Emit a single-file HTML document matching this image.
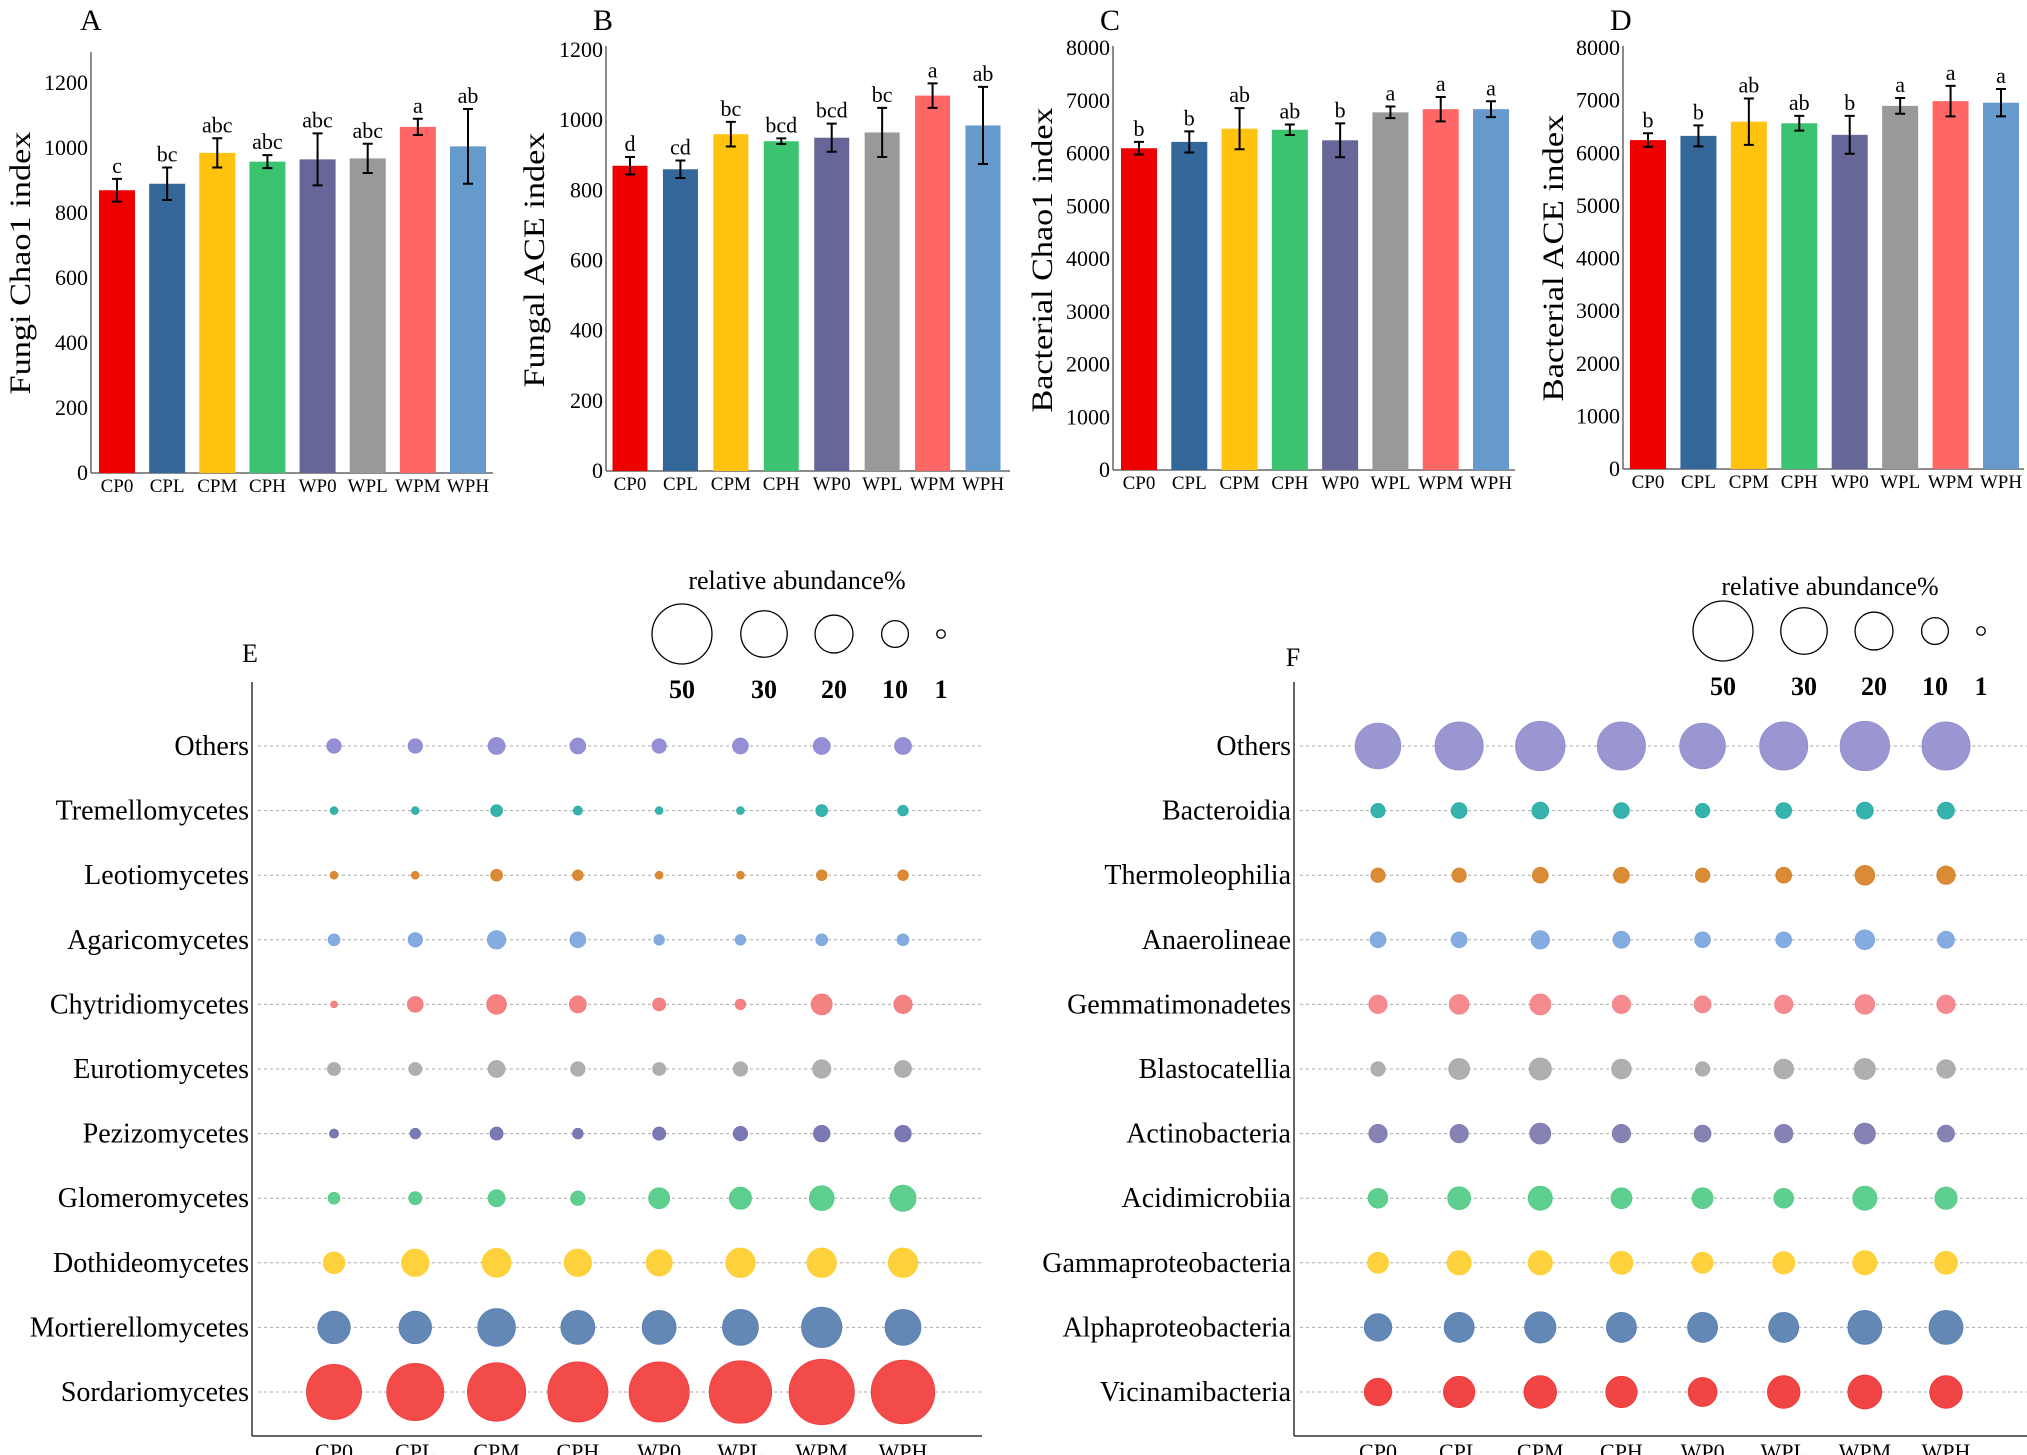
<!DOCTYPE html>
<html><head><meta charset="utf-8"><style>
html,body{margin:0;padding:0;background:#fff;}
svg{display:block;font-family:"Liberation Serif",serif;}
</style></head><body>
<svg id="fig" width="2027" height="1455" viewBox="0 0 2027 1455" xmlns="http://www.w3.org/2000/svg"></svg>
<script>
const groups = ["CP0","CPL","CPM","CPH","WP0","WPL","WPM","WPH"];
const barColors = ["#EE0000","#336699","#FFC20F","#3CC370","#676699","#999999","#FF6666","#6699CC"];

const aValues = [870,890,985,958,965,968,1065,1005];
const aErrors = [35,50,45,20,80,45,25,115];
const aLetters = ["c","bc","abc","abc","abc","abc","a","ab"];
const aTicks = [0,200,400,600,800,1000,1200];

const bValues = [870,860,960,940,950,965,1070,985];
const bErrors = [25,25,35,8,40,70,35,110];
const bLetters = ["d","cd","bc","bcd","bcd","bc","a","ab"];
const bTicks = [0,200,400,600,800,1000,1200];

const cValues = [6100,6220,6470,6450,6250,6780,6840,6840];
const cErrors = [120,200,390,100,320,110,230,150];
const cLetters = ["b","b","ab","ab","b","a","a","a"];
const cTicks = [0,1000,2000,3000,4000,5000,6000,7000,8000];

const dValues = [6250,6330,6600,6570,6350,6900,6990,6960];
const dErrors = [130,200,440,140,360,150,290,260];
const dLetters = ["b","b","ab","ab","b","a","a","a"];
const dTicks = [0,1000,2000,3000,4000,5000,6000,7000,8000];

const eTaxa = ["Others","Tremellomycetes","Leotiomycetes","Agaricomycetes","Chytridiomycetes","Eurotiomycetes","Pezizomycetes","Glomeromycetes","Dothideomycetes","Mortierellomycetes","Sordariomycetes"];
const eColors = ["#8F8AD4","#2BAFA8","#D9842A","#7DA8DF","#F47B7B","#ABABAB","#7472B0","#55CC88","#FFD033","#5B82B2","#F24040"];
const eOthers = [2.8,2.8,3.9,3.4,2.8,3.4,3.9,3.9];
const eTremello = [0.8,0.8,1.9,1.1,0.8,0.8,1.9,1.5];
const eLeotio = [0.8,0.8,1.9,1.5,0.8,0.8,1.5,1.5];
const eAgarico = [1.9,2.8,4.6,3.4,1.5,1.5,1.9,1.9];
const eChytrid = [0.6,3.4,5.3,3.9,2.3,1.5,6,4.6];
const eEuroti = [2.3,2.3,3.9,2.8,2.3,2.8,4.6,3.9];
const ePezizo = [1.1,1.5,2.3,1.5,2.3,2.8,3.7,3.7];
const eGlomero = [1.9,2.3,3.9,2.8,6,6.7,8.4,9.4];
const eDothideo = [6.4,10.3,11.4,10.3,9.4,11.9,11.9,11.9];
const eMortier = [14.6,14.6,19.7,15.9,15.9,17.8,22.5,17.8];
const eSordario = [42,45,47,50,50,54,59,56];

const fTaxa = ["Others","Bacteroidia","Thermoleophilia","Anaerolineae","Gemmatimonadetes","Blastocatellia","Actinobacteria","Acidimicrobiia","Gammaproteobacteria","Alphaproteobacteria","Vicinamibacteria"];
const fColors = ["#9590CF","#2BAFA8","#D9842A","#7DA8DF","#F4858A","#ABABAB","#7F7CB0","#55CC88","#FFD033","#5B82B2","#F03A3A"];
const fOthers = [28.7,32,33.9,32,28.7,32,33.9,32];
const fBacteroidia = [2.8,3.4,3.9,3.4,2.8,3.4,3.9,3.9];
const fThermo = [2.8,2.8,3.4,3.4,2.8,3.4,5.3,4.6];
const fAnaero = [3.4,3.4,4.6,3.9,3.4,3.4,5.3,3.9];
const fGemmat = [4.6,5.3,6,4.6,3.9,4.6,5.3,4.6];
const fBlasto = [2.8,6,6.8,5.3,2.8,5.3,6,4.6];
const fActino = [4.6,4.6,6,4.6,3.9,4.6,6,3.9];
const fAcidi = [5.3,7.2,8,6,6,5.3,8,6.8];
const fGamma = [6,8,8,7.2,6,6.8,8,7.2];
const fAlpha = [10.4,12.4,13.5,12.4,12.4,12.4,15.9,15.9];
const fVicin = [10.4,13.5,14.6,13.5,11.4,14.6,15.9,14.6];

const legendValues = [50,30,20,10,1];

const NS = "http://www.w3.org/2000/svg";
const svg = document.getElementById("fig");
function mk(tag, attrs, parent, text){
  const e = document.createElementNS(NS, tag);
  for (const k in attrs) e.setAttribute(k, attrs[k]);
  if (text !== undefined) e.textContent = text;
  (parent || svg).appendChild(e);
  return e;
}

function barPanel(cfg){
  const g = mk("g", {});
  
  
  const yScale = v => cfg.base - (cfg.base - cfg.topY) * v / cfg.max;
  const xScale = i => cfg.x0 + (cfg.x1 - cfg.x0) * i / (groups.length - 1);
  const ya = mk("line", {x1:cfg.ax, y1:cfg.axTop, x2:cfg.ax, y2:cfg.base, stroke:"#666", "stroke-width":1.5}, g);
  
  
  const xa = mk("line", {x1:cfg.ax, y1:cfg.base, x2:cfg.axRight, y2:cfg.base, stroke:"#666", "stroke-width":1.5}, g);
  
  
  cfg.ticks.forEach(t => {
    const tl = mk("text", {x:cfg.ax - 3, y:yScale(t) + 7, "text-anchor":"end", "font-size":22}, g, String(t));
    
    
  });
  cfg.values.forEach((v, i) => {
    const cx = xScale(i);
    const r = mk("rect", {x:cx - cfg.bw/2, y:yScale(v), width:cfg.bw, height:cfg.base - yScale(v), fill:barColors[i]}, g);
    
    
    const yt = yScale(v + cfg.errs[i]), yb = yScale(v - cfg.errs[i]);
    const eb = mk("path", {d:`M${cx},${yt}V${yb}M${cx-5},${yt}H${cx+5}M${cx-5},${yb}H${cx+5}`, stroke:"#000", "stroke-width":2, fill:"none"}, g);
    
    
    const lt = mk("text", {x:cx, y:yt - 6, "text-anchor":"middle", "font-size":22}, g, cfg.letters[i]);
    
    
    const xl = mk("text", {x:cx, y:cfg.base + 19, "text-anchor":"middle", "font-size":19}, g, groups[i]);
    
    
  });
  const tt = mk("text", {x:0, y:0, "text-anchor":"middle", "font-size":30, textLength:cfg.tLen, lengthAdjust:"spacingAndGlyphs", transform:`translate(${cfg.tX},${cfg.tY}) rotate(-90)`}, g, cfg.title);
  
  
  const pl = mk("text", {x:cfg.lx, y:30, "font-size":30}, g, cfg.label);
  
  
}

barPanel({name:"panel-a-fungi-chao1", values:aValues, errs:aErrors, letters:aLetters, ticks:aTicks, max:1200,
  ax:91, axTop:52, base:473, topY:83, axRight:493, x0:117, x1:468, bw:36, title:"Fungi Chao1 index", tX:30, tY:263, tLen:263, label:"A", lx:80});
barPanel({name:"panel-b-fungal-ace", values:bValues, errs:bErrors, letters:bLetters, ticks:bTicks, max:1200,
  ax:606, axTop:46, base:471, topY:50, axRight:1010, x0:630, x1:983, bw:35, title:"Fungal ACE index", tX:544, tY:260, tLen:255, label:"B", lx:593});
barPanel({name:"panel-c-bacterial-chao1", values:cValues, errs:cErrors, letters:cLetters, ticks:cTicks, max:8000,
  ax:1113, axTop:46, base:470, topY:48, axRight:1515, x0:1139, x1:1491, bw:36, title:"Bacterial Chao1 index", tX:1052, tY:260, tLen:305, label:"C", lx:1100});
barPanel({name:"panel-d-bacterial-ace", values:dValues, errs:dErrors, letters:dLetters, ticks:dTicks, max:8000,
  ax:1623, axTop:46, base:469, topY:48, axRight:2024, x0:1648, x1:2001, bw:36, title:"Bacterial ACE index", tX:1563, tY:258, tLen:287, label:"D", lx:1610});

const rScale = v => 4.24 * Math.sqrt(v);

function bubblePanel(cfg){
  const g = mk("g", {});
  
  
  const rowY = i => 746 + (1392 - 746) * i / (cfg.taxa.length - 1);
  const colX = j => cfg.x0 + (cfg.x1 - cfg.x0) * j / (groups.length - 1);
  cfg.taxa.forEach((t, i) => {
    const gl = mk("line", {x1:cfg.ax + 6, y1:rowY(i), x2:cfg.axRight, y2:rowY(i), stroke:"#aaa", "stroke-width":1, "stroke-dasharray":"3,3"}, g);
    
    
    const tl = mk("text", {x:cfg.ax - 3, y:rowY(i) + 9, "text-anchor":"end", "font-size":28}, g, t);
    
    
  });
  cfg.series.forEach((arr, i) => {
    arr.forEach((v, j) => {
      const c = mk("circle", {cx:colX(j), cy:rowY(i), r:rScale(v), fill:cfg.colors[i], "fill-opacity":0.95, stroke:cfg.colors[i], "stroke-width":1}, g);
      
      
    });
  });
  groups.forEach((gr, j) => {
    const xl = mk("text", {x:colX(j), y:1459, "text-anchor":"middle", "font-size":22}, g, gr);
    
    
  });
  const ya = mk("line", {x1:cfg.ax, y1:682, x2:cfg.ax, y2:1436, stroke:"#333", "stroke-width":1.5}, g);
  
  
  const xa = mk("line", {x1:cfg.ax, y1:1436, x2:cfg.axRight, y2:1436, stroke:"#333", "stroke-width":1.5}, g);
  
  
  const pl = mk("text", {x:cfg.lx, y:cfg.ly, "text-anchor":"middle", "font-size":26}, g, cfg.label);
  
  
  const lg = mk("g", {}, g);
  
  
  const lt = mk("text", {x:cfg.legTitleX, y:cfg.legTitleY, "text-anchor":"middle", "font-size":26}, lg, "relative abundance%");
  
  
  legendValues.forEach((v, k) => {
    const c = mk("circle", {cx:cfg.legX[k], cy:cfg.legY, r:rScale(v), fill:"none", stroke:"#000", "stroke-width":1.3}, lg);
    
    
    const t = mk("text", {x:cfg.legX[k], y:cfg.legY + 64, "text-anchor":"middle", "font-size":26, "font-weight":"bold"}, lg, String(v));
    
    
  });
}

bubblePanel({name:"panel-e-fungal-classes", taxa:eTaxa, colors:eColors,
  series:[eOthers,eTremello,eLeotio,eAgarico,eChytrid,eEuroti,ePezizo,eGlomero,eDothideo,eMortier,eSordario],
  ax:252, axRight:982, x0:334, x1:903, label:"E", lx:250, ly:662,
  legTitleX:797, legTitleY:589, legX:[682,764,834,895,941], legY:634});
bubblePanel({name:"panel-f-bacterial-classes", taxa:fTaxa, colors:fColors,
  series:[fOthers,fBacteroidia,fThermo,fAnaero,fGemmat,fBlasto,fActino,fAcidi,fGamma,fAlpha,fVicin],
  ax:1294, axRight:2027, x0:1378, x1:1946, label:"F", lx:1293, ly:666,
  legTitleX:1830, legTitleY:595, legX:[1723,1804,1874,1935,1981], legY:631});
</script>
</body></html>
